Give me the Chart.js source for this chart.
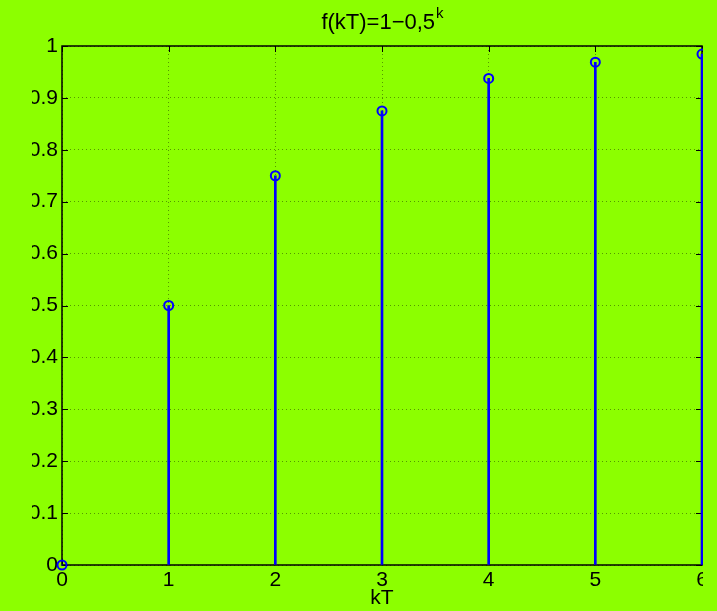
<!DOCTYPE html>
<html>
<head>
<meta charset="utf-8">
<script src="https://cdn.jsdelivr.net/npm/chart.js@4/dist/chart.umd.min.js"></script>
<style>
  html, body { margin: 0; padding: 0; background: #8cff00; overflow: hidden; }
  #wrap { position: relative; width: 740px; height: 611px; }
</style>
</head>
<body>
<div id="wrap"><canvas id="stemChart" width="740" height="611"></canvas></div>
<script>
// sample index k (kT) and f(kT) = 1 - 0.5^k
const kValues = [0, 1, 2, 3, 4, 5, 6];
const fValues = [0, 0.5, 0.75, 0.875, 0.9375, 0.96875, 0.984375];

const titleMain = 'f(kT)=1\u22120,5';
const titleSup = 'k';
const xLabel = 'kT';

const BG = '#8cff00';
const STEM = '#0000ff';
const FONT = '"Liberation Sans", Arial, Helvetica, sans-serif';

const points = kValues.map((k, i) => ({ x: k, y: fValues[i] }));

// MATLAB-ish box with inward ticks on all four sides
const boxPlugin = {
  id: 'box',
  beforeDatasetsDraw(chart) {
    const { ctx, chartArea: a, scales: { x, y } } = chart;
    ctx.save();
    ctx.strokeStyle = '#000';
    ctx.lineWidth = 1;
    const tl = 6;
    ctx.beginPath();
    x.ticks.forEach(t => {
      const px = Math.round(x.getPixelForValue(t.value)) + 0.5;
      ctx.moveTo(px, a.bottom); ctx.lineTo(px, a.bottom - tl);
      ctx.moveTo(px, a.top); ctx.lineTo(px, a.top + tl);
    });
    y.ticks.forEach(t => {
      const py = Math.round(y.getPixelForValue(t.value)) + 0.5;
      ctx.moveTo(a.left, py); ctx.lineTo(a.left + tl, py);
      ctx.moveTo(a.right, py); ctx.lineTo(a.right - tl, py);
    });
    ctx.stroke();
    ctx.lineWidth = 1.5;
    ctx.strokeRect(a.left, a.top, a.right - a.left, a.bottom - a.top);
    ctx.restore();
  },
  afterDraw(chart) {
    const { ctx, chartArea: a } = chart;
    ctx.save();
    // the original figure is cropped on the left and right
    ctx.fillStyle = BG;
    ctx.fillRect(0, 0, 32, chart.height);
    ctx.fillRect(a.right + 1, 0, chart.width, chart.height);
    // title with superscript
    ctx.fillStyle = '#000';
    ctx.textBaseline = 'alphabetic';
    ctx.font = '22px ' + FONT;
    const w1 = ctx.measureText(titleMain).width;
    ctx.font = '15px ' + FONT;
    const w2 = ctx.measureText(titleSup).width;
    const cx = (a.left + a.right) / 2;
    const x0 = cx - (w1 + w2) / 2;
    ctx.font = '22px ' + FONT;
    ctx.textAlign = 'left';
    ctx.fillText(titleMain, x0, 29);
    ctx.font = '15px ' + FONT;
    ctx.fillText(titleSup, x0 + w1 + 1, 18);
    ctx.restore();
  }
};

function initChart() {
  const ctx = document.getElementById('stemChart').getContext('2d');
  new Chart(ctx, {
    type: 'bar',
    data: {
      datasets: [
        {
          type: 'bar',
          label: 'stem',
          data: points,
          backgroundColor: STEM,
          borderWidth: 0,
          barThickness: 2,
          clip: false
        },
        {
          type: 'scatter',
          label: 'f(kT)',
          data: points,
          pointStyle: 'circle',
          pointRadius: 4.5,
          pointBorderWidth: 2,
          pointBorderColor: STEM,
          pointBackgroundColor: 'rgba(0,0,0,0)',
          showLine: false,
          clip: false
        }
      ]
    },
    options: {
      responsive: false,
      animation: false,
      layout: { padding: { top: 46, right: 38, left: 0, bottom: 0 } },
      plugins: { legend: { display: false }, tooltip: { enabled: false }, title: { display: false } },
      scales: {
        x: {
          type: 'linear',
          min: 0,
          max: 6,
          offset: false,
          grid: { offset: false, color: 'rgba(0,0,0,0.4)', lineWidth: 1, drawTicks: false },
          border: { display: false, dash: [1, 3] },
          ticks: { stepSize: 1, padding: 3, color: '#000', font: { family: FONT, size: 21 }, maxRotation: 0 },
          title: { display: true, text: xLabel, color: '#000', font: { family: FONT, size: 21 }, padding: { top: 0, bottom: 0 } },
          afterFit(scale) { scale.height = 46; scale.paddingLeft = 0; scale.paddingRight = 0; }
        },
        y: {
          min: 0,
          max: 1,
          grid: { color: 'rgba(0,0,0,0.4)', lineWidth: 1, drawTicks: false },
          border: { display: false, dash: [1, 3] },
          ticks: {
            stepSize: 0.1, padding: 4, color: '#000', font: { family: FONT, size: 21 },
            callback: v => String(Math.round(v * 10) / 10)
          },
          afterFit(scale) { scale.width = 62; }
        }
      }
    },
    plugins: [boxPlugin]
  });
}

window.addEventListener('DOMContentLoaded', initChart);
</script>
</body>
</html>
